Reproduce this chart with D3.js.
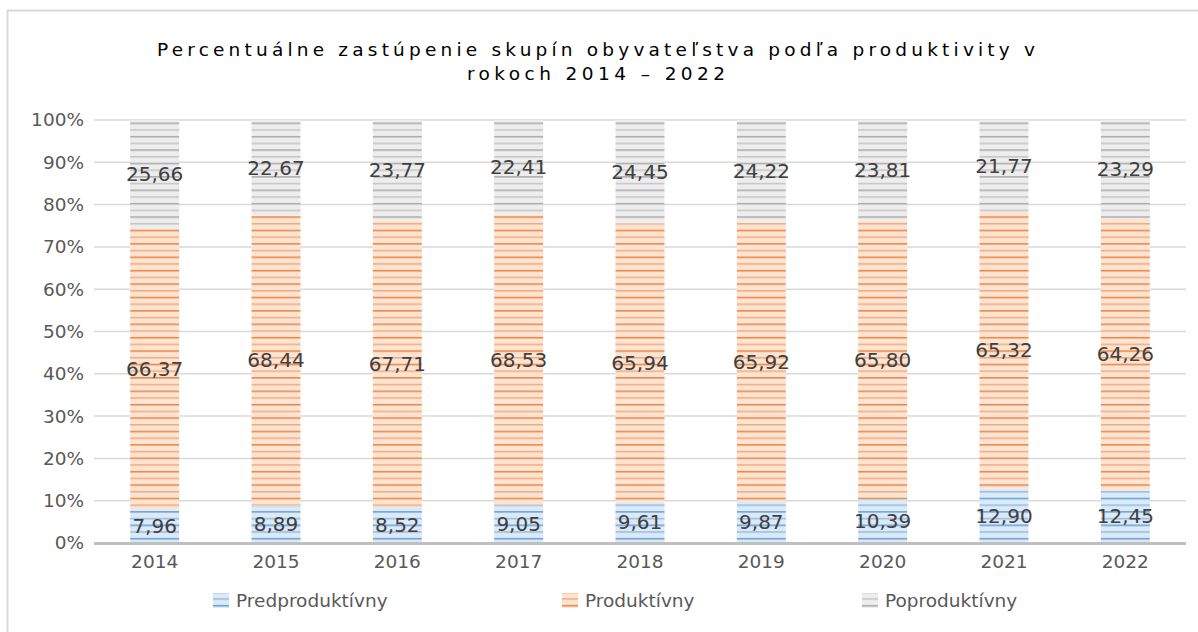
<!DOCTYPE html>
<html><head><meta charset="utf-8">
<script src="https://cdn.jsdelivr.net/npm/d3@7"></script>
<style>body{margin:0;background:#fff}svg{display:block}</style>
</head><body>
<svg id="c" width="1198" height="632"></svg>
<script>
const years = ["2014","2015","2016","2017","2018","2019","2020","2021","2022"];
const predprod = [7.96,8.89,8.52,9.05,9.61,9.87,10.39,12.90,12.45];
const prod = [66.37,68.44,67.71,68.53,65.94,65.92,65.80,65.32,64.26];
const poprod = [25.66,22.67,23.77,22.41,24.45,24.22,23.81,21.77,23.29];
const seriesNames = ["Predproduktívny","Produktívny","Poproduktívny"];
const yTicks = [0,0.1,0.2,0.3,0.4,0.5,0.6,0.7,0.8,0.9,1];
const titleLines = ["Percentuálne zastúpenie skupín obyvateľstva podľa produktivity v","rokoch 2014 – 2022"];

const fills = [{bg:"#dce9f6",ln:"#5b9bd5"},{bg:"#fce4d4",ln:"#ed7d31"},{bg:"#ededed",ln:"#a5a5a5"}];
const font = "DejaVu Sans";
const svg = d3.select("#c");

// frame
svg.append("rect").attr("x",7.5).attr("y",10.5).attr("width",1300).attr("height",700)
  .attr("fill","none").attr("stroke","#d9d9d9").attr("stroke-width",2);

// patterns
const defs = svg.append("defs");
fills.forEach((f,i)=>{
  const p = defs.append("pattern").attr("id","p"+i).attr("patternUnits","userSpaceOnUse")
    .attr("width",10).attr("height",13.4);
  p.append("rect").attr("width",10).attr("height",13.4).attr("fill",f.bg);
  p.append("rect").attr("y",2).attr("width",10).attr("height",1.4).attr("fill",f.ln);
  p.append("rect").attr("y",8.7).attr("width",10).attr("height",1.4).attr("fill",f.ln).attr("opacity",0.6);
});

const L=94,R=1186,T=120,B=543;
const x = d3.scaleBand().domain(years).range([L,R]);
const y = d3.scaleLinear().domain([0,1]).range([B,T]);
const barW = 49;

// gridlines
svg.append("g").selectAll("line").data(yTicks.filter(d=>d>0)).join("line")
  .attr("x1",L).attr("x2",R).attr("y1",d=>y(d)).attr("y2",d=>y(d))
  .attr("stroke","#d9d9d9").attr("stroke-width",1.5);

// y axis labels
const yAxis = d3.axisLeft(y).tickValues(yTicks).tickFormat(d3.format(".0%")).tickSize(0).tickPadding(10);
const ga = svg.append("g").attr("transform",`translate(${L},0)`).call(yAxis);
ga.select(".domain").remove();
ga.selectAll("text").attr("font-family",font).attr("font-size",18.5).attr("fill","#595959");

// stack
const rows = years.map((yr,i)=>({year:yr, a:predprod[i], b:prod[i], c:poprod[i]}));
const stack = d3.stack().keys(["a","b","c"]).offset(d3.stackOffsetExpand)(rows);

const fmt = v => d3.format(".2f")(v).replace(".",",");
const raw = [predprod,prod,poprod];

stack.forEach((s,si)=>{
  const g = svg.append("g");
  g.selectAll("rect").data(s).join("rect")
    .attr("x",d=>x(d.data.year)+x.bandwidth()/2-barW/2)
    .attr("width",barW)
    .attr("y",d=>y(d[1]))
    .attr("height",d=>y(d[0])-y(d[1]))
    .attr("fill",`url(#p${si})`);
});
stack.forEach((s,si)=>{
  svg.append("g").selectAll("text").data(s).join("text")
    .attr("x",d=>x(d.data.year)+x.bandwidth()/2)
    .attr("y",d=>(y(d[0])+y(d[1]))/2)
    .attr("dy","0.34em")
    .attr("text-anchor","middle")
    .attr("font-family",font).attr("font-size",20).attr("fill","#404040")
    .text((d,i)=>fmt(raw[si][i]));
});

// baseline
svg.append("line").attr("x1",L).attr("x2",R).attr("y1",B+0.5).attr("y2",B+0.5)
  .attr("stroke","#bfbfbf").attr("stroke-width",3);

// x axis labels
const xAxis = d3.axisBottom(x).tickSize(0).tickPadding(12);
const gx = svg.append("g").attr("transform",`translate(0,${B})`).call(xAxis);
gx.select(".domain").remove();
gx.selectAll("text").attr("font-family",font).attr("font-size",18.5).attr("fill","#595959");

// title
const tw = [878,258];
titleLines.forEach((t,i)=>{
  svg.append("text").attr("x",596).attr("y",[56,80][i]).attr("text-anchor","middle")
    .attr("font-family",font).attr("font-size",18.5).attr("fill","#000")
    .attr("textLength",tw[i]).attr("lengthAdjust","spacing").text(t);
});

// legend
const legX = [213,562,862];
seriesNames.forEach((n,i)=>{
  svg.append("rect").attr("x",legX[i]).attr("y",593).attr("width",16).attr("height",15)
    .attr("fill",`url(#p${i})`);
  svg.append("text").attr("x",legX[i]+23).attr("y",607).attr("font-family",font)
    .attr("font-size",18.5).attr("fill","#595959").text(n);
});
</script>
</body></html>
